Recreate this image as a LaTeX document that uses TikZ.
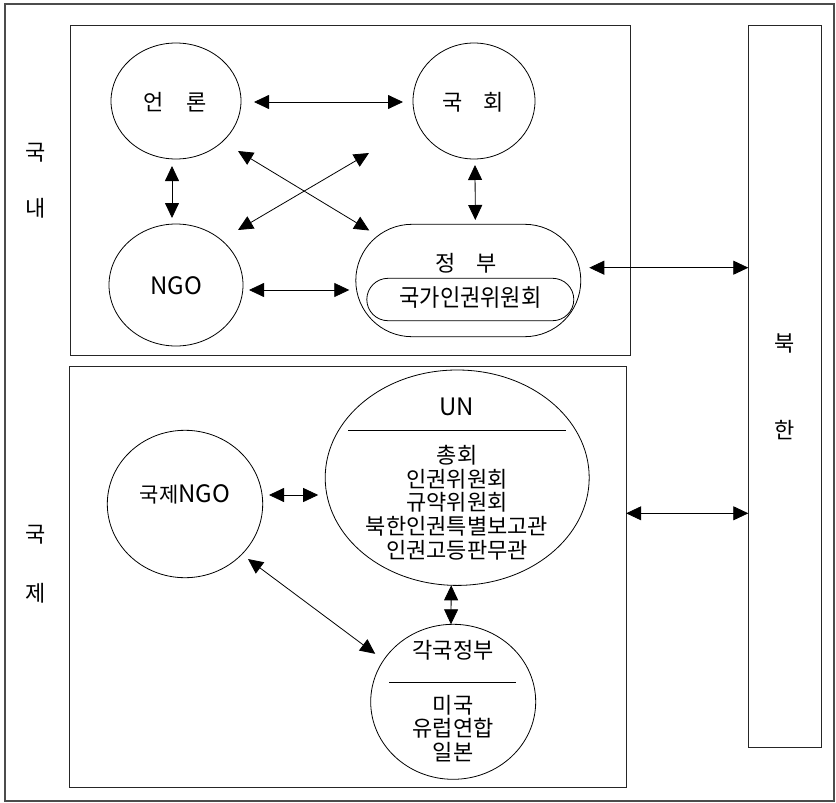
\documentclass[tikz,border=0pt]{standalone}
\usepackage{fontspec}
\setmainfont{Noto Sans CJK KR}
\newfontfamily\krtall[FakeStretch=0.92]{Noto Sans CJK KR}
\usetikzlibrary{arrows.meta,shapes.geometric,shapes.misc}

\begin{document}
\begin{tikzpicture}[x=1pt,y=-1pt,
  every node/.style={inner sep=0pt, outer sep=0pt},
  txt/.style={font=\fontsize{22}{23.75}\selectfont, align=center},
  latin/.style={font=\fontsize{24}{24}\selectfont},
  actor/.style={draw, ellipse, line width=0.8pt},
  pill/.style={draw, rounded rectangle, line width=0.8pt},
  panel/.style={draw, line width=1pt, black!85},
  tip/.tip={Triangle[length=15pt,width=14pt]},
  link/.style={line width=0.8pt, tip-tip},
  rule/.style={line width=0.7pt}
]
\useasboundingbox (0,0) rectangle (836,803);

% outer frame
\draw[line width=1.2pt, black!70] (5,4) rectangle (834,801);

% panels: domestic, international, North Korea
\node[panel, minimum width=559.3pt, minimum height=330.3pt] (domestic) at (350.35,190.15) {};
\node[panel, minimum width=556.7pt, minimum height=421pt] (international) at (347.65,577.2) {};
\node[panel, minimum width=73pt, minimum height=722.7pt] (north) at (784.8,386.35) {};

% side labels
\node[txt] (dom1) at (36,153) {국};
\node[txt] (dom2) at (36,208) {내};
\node[txt] (int1) at (36,535) {국};
\node[txt] (int2) at (36,593) {제};
\node[txt] (nk1) at (785,343) {북};
\node[txt] (nk2) at (785,430) {한};

% domestic actors
\node[actor, minimum width=130pt, minimum height=116pt] (media) at (176,101) {};
\node[txt] (mediaText) at (175,102) {언\hspace{22pt}론};
\node[actor, minimum width=122pt, minimum height=116pt] (assembly) at (474,101) {};
\node[txt] (assemblyText) at (473,102) {국\hspace{20pt}회};
\node[actor, minimum width=134pt, minimum height=122pt] (ngo) at (176,285) {};
\node[latin] (ngoText) at (176,286) {NGO};
\node[pill, minimum width=225pt, minimum height=112.4pt] (gov) at (468.3,280.5) {};
\node[txt] (govText) at (466,263) {정\hspace{21pt}부};
\node[pill, minimum width=207pt, minimum height=42.4pt] (nhrc) at (470.3,299.5) {};
\node[font=\krtall\fontsize{24}{24}\selectfont] (nhrcText) at (470.5,298) {국가인권위원회};

% international actors
\node[actor, minimum width=155.4pt, minimum height=147.4pt] (intngo) at (185,504) {};
\node[txt] (intngoText) at (185,494) {{\fontsize{21}{21}\selectfont 국제}{\fontsize{24}{24}\selectfont NGO}};
\node[actor, minimum width=264pt, minimum height=215.4pt] (un) at (457.2,477.7) {};
\node[latin] (unHead) at (457,407) {UN};
\draw[rule] (348,430) -- (566,430);
\node[txt] (unBodies) at (457,502.5) {총회\\인권위원회\\규약위원회\\북한인권특별보고관\\인권고등판무관};
\node[actor, minimum width=165pt, minimum height=155pt] (states) at (453.2,701.8) {};
\node[txt] (statesHead) at (453,650) {각국정부};
\draw[rule] (389,682) -- (516,682);
\node[txt] (statesBody) at (453,728.5) {미국\\유럽연합\\일본};

% arrow ends on the government and UN sides facing North Korea
\coordinate (govOut) at ([shift={(121,-12.8)}]gov.center);
\coordinate (unOut) at ([shift={(169,35.6)}]un.center);

% domestic relations
\draw[link] ([shift={(78,1)}]media.center) -- ([shift={(-71,1)}]assembly.center);
\draw[link] ([shift={(-4,65)}]media.center) -- ([shift={(-4,-67)}]ngo.center);
\draw[link] ([shift={(62,50)}]media.center) -- ([shift={(-99,-50)}]gov.center);
\draw[link] ([shift={(-105,52)}]assembly.center) -- ([shift={(62,-55)}]ngo.center);
\draw[link] ([shift={(73,5)}]ngo.center) -- ([shift={(-119,9.5)}]gov.center);
\draw[link] ([shift={(1,64)}]assembly.center) -- ([shift={(7,-60.5)}]gov.center);
\draw[link] (govOut) -- (north.west |- govOut);

% international relations
\draw[link] ([shift={(84,-9)}]intngo.center) -- ([shift={(-139,17.3)}]un.center);
\draw[link] ([shift={(63,55)}]intngo.center) -- ([shift={(-78,-48)}]states.center);
\draw[link] ([shift={(-6,107.6)}]un.center) -- ([shift={(-2.2,-77.5)}]states.center);
\draw[link] (unOut) -- (north.west |- unOut);
\end{tikzpicture}
\end{document}
